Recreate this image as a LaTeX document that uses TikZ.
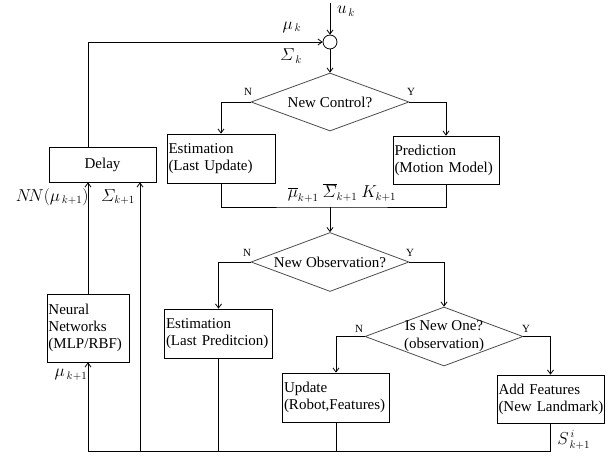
\documentclass[tikz,border=0pt]{standalone}
\usepackage{fontspec}
\setmainfont{Liberation Serif}
\usetikzlibrary{shapes.geometric,arrows.meta}
\newcommand{\Sig}{\mathnormal{\Sigma}}
\begin{document}
\begin{tikzpicture}[x=1pt,y=-1pt,
  font=\fontsize{15}{17}\selectfont,
  line width=0.8pt,
  arr/.style={-{Straight Barb[length=4pt,width=6pt]}},
  box/.style={draw=black, inner xsep=1.5pt, inner ysep=0pt, align=left},
  dia/.style={draw=black!70, diamond, inner sep=0pt, minimum width=158pt, minimum height=58pt},
  yn/.style={font=\fontsize{11}{11}\selectfont, inner sep=0pt},
  lbl/.style={inner sep=0pt, font=\fontsize{16}{16}\selectfont}
]
\useasboundingbox (0,0) rectangle (611,457);

% nodes
\node[draw=black, circle, minimum size=14pt, inner sep=0pt] (circ) at (330,42) {};
\coordinate (uk) at (330,3);

\node[dia] (d1) at (330,102) {};
\node at (d1) {New Control?};

\node[box, text width=105pt, minimum height=49pt] (est1) at (221,158.5) {Estimation\\(Last Update)};
\node[box, text width=103pt, minimum height=48pt] (pred) at (446,160) {Prediction\\\mbox{(Motion Model)}};
\node[box, align=center, minimum width=107pt, minimum height=35pt] (delay) at (102.5,164.5) {Delay};

\coordinate (merge) at (330,207);

\node[dia, minimum height=59pt] (d2) at (330,262) {};
\node at (d2) {New Observation?};

\node[box, text width=105pt, minimum height=49pt] (est2) at (218.5,333.5) {Estimation\\\mbox{(Last Preditcion)}};
\node[box, text width=79pt, minimum height=68pt] (nn) at (88,328) {Neural\\Networks\\(MLP/RBF)};

\node[dia, minimum height=59pt] (d3) at (444,336.5) {};
\node[align=center, font=\fontsize{15}{18}\selectfont] at (d3) {Is New One?\\(observation)};

\node[box, text width=104pt, minimum height=49pt] (upd) at (336,397.5) {Update\\\mbox{(Robot,Features)}};
\node[box, text width=104pt, minimum height=48pt] (add) at (550.5,399) {Add Features\\\mbox{(New Landmark)}};

\coordinate (b0) at (88,451);
\coordinate (b2) at (140,451);

% connectors
\draw[arr] (uk) -- (circ.north);
\draw[arr] (delay.north -| nn.north) |- (circ.west);
\draw[arr] (circ.south) -- (d1.north);
\draw[arr] (d1.west) -| (est1.north);
\draw[arr] (d1.east) -| (pred.north);
\draw (est1.south) |- (merge) -| (pred.south);
\draw[arr] (merge) -- (d2.north);
\draw[arr] (d2.west) -| (est2.north);
\draw[arr] (d2.east) -| (d3.north);
\draw[arr] (d3.west) -| (upd.north);
\draw[arr] (d3.east) -| (add.north);
\draw (add.south) |- (b0);
\draw[arr] (b0) -- (nn.south);
\draw[arr] (nn.north) -- (nn.north |- delay.south);
\draw[arr] (b2) -- (b2 |- delay.south);
\draw (est2.south) -- (est2.south |- b0);
\draw (upd.south) -- (upd.south |- b0);

% labels
\node[lbl] at (346,11) {$u_{\,k}$};
\node[lbl] at (292,27) {$\mu_{\,k}$};
\node[lbl] at (291,56) {$\Sig_{\,k}$};
\node[yn] at (248,92) {N};
\node[yn] at (411,92) {Y};
\node[yn] at (247,253) {N};
\node[yn] at (410,253) {Y};
\node[yn] at (359,329) {N};
\node[yn] at (526,329) {Y};
\node[lbl, anchor=east] at (89,197) {$N\!N(\mu_{\,k+1})$};
\node[lbl] at (118,197) {$\Sig_{k+1}$};
\node[lbl] at (342,193) {$\overline{\mu}_{k+1}\ \overline{\Sig}_{k+1}\ K_{k+1}$};
\node[lbl] at (71,375) {$\mu_{\,k+1}$};
\node[lbl, anchor=west] at (557,440) {$S^{\,i}_{\,k+1}$};
\end{tikzpicture}
\end{document}
